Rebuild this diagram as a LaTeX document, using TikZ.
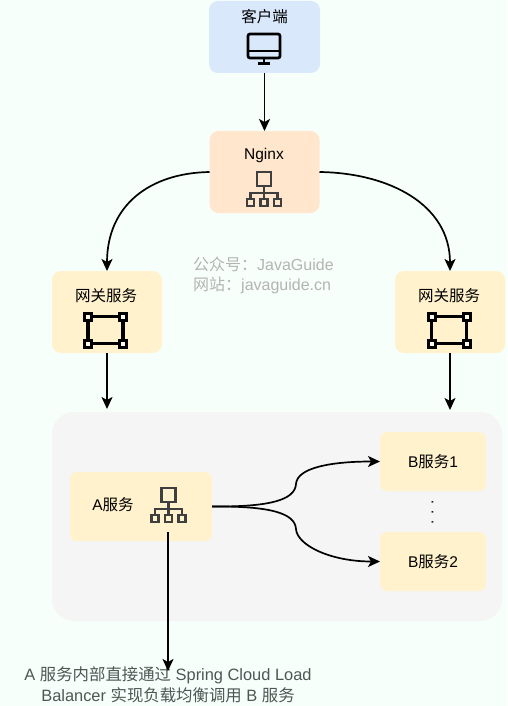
\documentclass[tikz,border=0pt]{standalone}
\usepackage{fontspec}
\setmainfont{Liberation Sans}
\newfontfamily\cjk{Noto Sans CJK SC}
\usetikzlibrary{arrows.meta,positioning}
\definecolor{bgmint}{HTML}{F7FFFA}
\definecolor{panelgray}{HTML}{F5F5F5}
\definecolor{clientblue}{HTML}{DAE8FC}
\definecolor{nginxorange}{HTML}{FFE6CC}
\definecolor{serviceyellow}{HTML}{FFF2CC}
\definecolor{icongray}{HTML}{3F3F3F}
\definecolor{marktext}{HTML}{B4B4B4}
\definecolor{notetext}{HTML}{4E5656}
\tikzset{
  box/.style={rectangle,rounded corners=9pt,inner sep=0pt,outer sep=0pt,font=\fontsize{15.5}{18}\selectfont},
  title/.style={inner sep=0pt,font=\fontsize{15.5}{18}\selectfont},
  conn/.style={line width=1.7pt,-{Stealth[length=12pt,width=11pt,inset=3pt]}},
  monitoricon/.pic={
    \draw[line width=2.7pt,rounded corners=2pt] (-16,-13) rectangle (16,11);
    \draw[line width=2.2pt] (-16,4) -- (16,4);
    \draw[line width=2.7pt] (0,11) -- (0,16);
    \draw[line width=2.7pt] (-6,16.5) -- (6,16.5);
  },
  treeicon/.pic={
    \draw[icongray,line width=2.2pt] (-7,-17) rectangle (7,-3);
    \draw[icongray,line width=2.2pt] (0,-3) -- (0,10);
    \draw[icongray,line width=2.2pt] (-13.5,10) -- (-13.5,4) -- (13.5,4) -- (13.5,10);
    \foreach \i in {-13.5,0,13.5}
      \draw[icongray,line width=2.2pt] (\i-3.5,10) rectangle (\i+3.5,17);
  },
  gatewayicon/.pic={
    \draw[line width=3.2pt] (-17.5,-13.5) rectangle (17.5,13.5);
    \foreach \i in {-17.5,17.5}
      \foreach \j in {-13.5,13.5}
        \draw[line width=3pt,fill=white!60!serviceyellow] (\i-3.5,\j-3.5) rectangle (\i+3.5,\j+3.5);
  }
}
\begin{document}
\begin{tikzpicture}[x=1pt,y=-1pt]
  \useasboundingbox[fill=bgmint] (0,0) rectangle (507,706);

  \node[box,fill=clientblue,minimum width=111pt,minimum height=72pt] (client) at (264.5,37) {};
  \node[title] (clienttext) at (264.5,17) {\cjk 客户端};
  \pic at (264,47) {monitoricon};

  \node[box,fill=nginxorange,minimum width=110pt,minimum height=82pt] (nginx) at (264.5,172) {};
  \node[title] (nginxtext) at (264,155.5) {Nginx};
  \pic at (264,189) {treeicon};

  \node[box,fill=serviceyellow,minimum width=110pt,minimum height=82pt] (gwleft) at (107,312) {};
  \node[title] (gwlefttext) at (106,296) {\cjk 网关服务};
  \pic at (105.5,330) {gatewayicon};

  \node[box,fill=serviceyellow,minimum width=110pt,minimum height=82pt] (gwright) at (450,312) {};
  \node[title] (gwrighttext) at (449,296) {\cjk 网关服务};
  \pic at (449,330) {gatewayicon};

  \node[box,fill=panelgray,rounded corners=22pt,minimum width=450pt,minimum height=209pt] (panel) at (277,516.5) {};

  \node[box,fill=serviceyellow,rounded corners=7pt,minimum width=142pt,minimum height=69pt] (svca) at (141,506.5) {};
  \node[title] (svcatext) at (113,505) {A{\cjk 服务}};
  \pic at (168.5,505) {treeicon};

  \node[box,fill=serviceyellow,rounded corners=7pt,minimum width=106pt,minimum height=59pt] (svcbone) at (433,461.5) {B{\cjk 服务}1};
  \node[box,fill=serviceyellow,rounded corners=7pt,minimum width=106pt,minimum height=59pt] (svcbtwo) at (433,561.5) {B{\cjk 服务}2};
  \node[title,rotate=90] (dots) at (432.5,512) {. . .};

  \node[inner sep=0pt,align=left,text=marktext,font=\fontsize{16}{20}\selectfont,anchor=north west] (mark) at (193,257) {{\cjk 公众号：}JavaGuide\\{\cjk 网站：}javaguide.cn};
  \node[inner sep=0pt,align=center,text=notetext,font=\fontsize{16.4}{21}\selectfont,anchor=north] (note) at (168,666) {A {\cjk 服务内部直接通过} Spring Cloud Load\\Balancer {\cjk 实现负载均衡调用} B {\cjk 服务}};

  \coordinate (gwlefttip) at (107,409);
  \coordinate (gwrighttip) at (450,410);
  \coordinate (svcaout) at (168,532);
  \coordinate (notetip) at (168,671);

  \draw[conn] (client.south) -- (nginx.north);
  \draw[conn] (nginx.west) .. controls (150,173) and (107,205) .. (gwleft.north);
  \draw[conn] (nginx.east) .. controls (390,173) and (450,205) .. (gwright.north);
  \draw[conn] (gwleft.south) -- (gwlefttip);
  \draw[conn] (gwright.south) -- (gwrighttip);
  \draw[conn] (svca.east) .. controls (270,507) and (295,500) .. (296,484) .. controls (297,468) and (330,461.5) .. (svcbone.west);
  \draw[conn] (svca.east) .. controls (270,506) and (295,513) .. (296,529) .. controls (297,545) and (330,561.5) .. (svcbtwo.west);
  \draw[conn] (svcaout) -- (notetip);
\end{tikzpicture}
\end{document}
